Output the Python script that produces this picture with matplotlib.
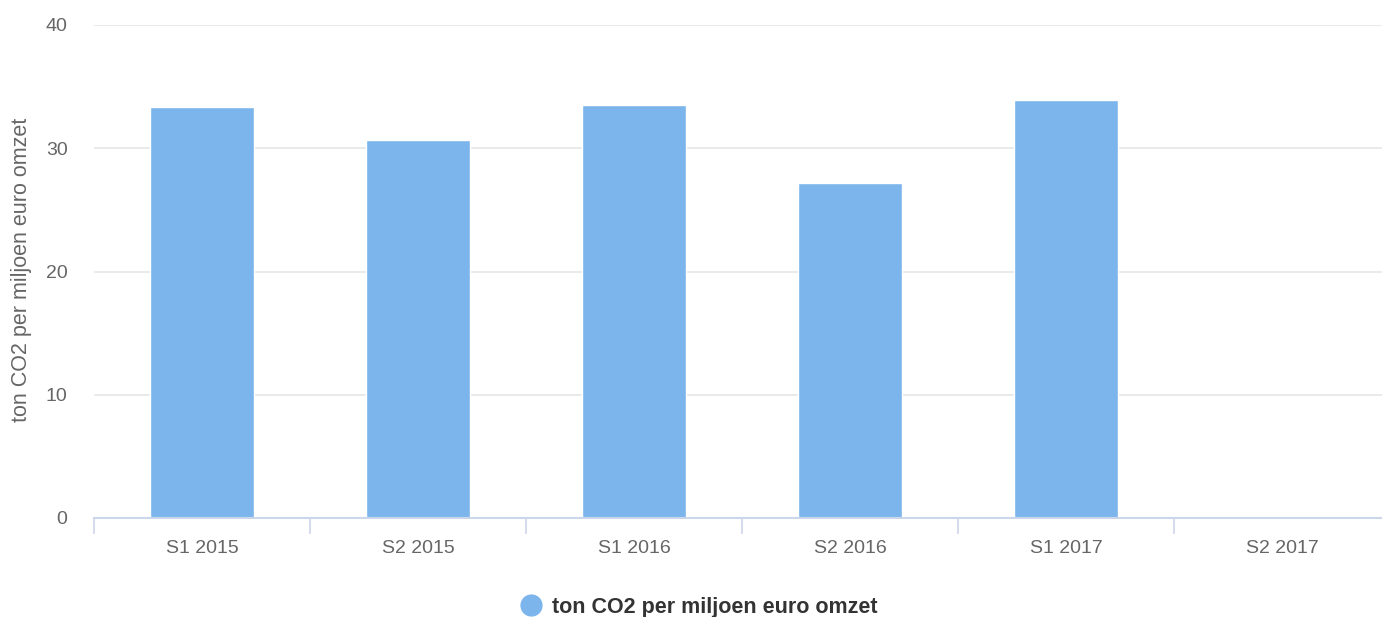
import matplotlib.pyplot as plt
import numpy as np
from matplotlib.lines import Line2D

plt.rcParams["font.family"] = ["Liberation Sans", "DejaVu Sans"]

CATEGORIES = ["S1 2015", "S2 2015", "S1 2016", "S2 2016", "S1 2017", "S2 2017"]
CO2_VALUES = [33.35, 30.65, 33.5, 27.2, 33.9, np.nan]
SERIES_NAME = "ton CO2 per miljoen euro omzet"
Y_TICKS = [0, 10, 20, 30, 40]

BAR_COLOR = "#7cb5ec"
TEXT_COLOR = "#666666"
GRID_COLOR = "#e6e6e6"
AXIS_COLOR = "#ccd6eb"

fig = plt.figure(figsize=(13.82, 6.17), dpi=100)
# plot area runs slightly past the right edge, as in the reference
ax = fig.add_axes([94 / 1382, 99 / 617, (1390 - 94) / 1382, 493 / 617])

positions = np.arange(len(CATEGORIES))
ax.bar(positions, CO2_VALUES, width=0.48, color=BAR_COLOR,
       edgecolor="white", linewidth=1, zorder=3)

ax.set_xlim(-0.5, len(CATEGORIES) - 0.5)
ax.set_ylim(0, 40)
ax.set_yticks(Y_TICKS)
ax.set_xticks(positions)
ax.set_xticklabels(CATEGORIES)
ax.set_xticks(np.arange(len(CATEGORIES) + 1) - 0.5, minor=True)

ax.tick_params(axis="x", which="major", length=0, pad=15.5, labelsize=14, labelcolor=TEXT_COLOR)
ax.tick_params(axis="x", which="minor", length=11.5, width=1.2, color=AXIS_COLOR)
ax.tick_params(axis="y", length=0, pad=19, labelsize=14, labelcolor=TEXT_COLOR)

ax.grid(axis="y", color=GRID_COLOR, linewidth=1.2, zorder=0)
for side in ["top", "right", "left"]:
    ax.spines[side].set_visible(False)
ax.spines["bottom"].set_color(AXIS_COLOR)
ax.spines["bottom"].set_linewidth(1.5)
ax.spines["bottom"].set_zorder(4)

ax.set_ylabel(SERIES_NAME, fontsize=15.5, color=TEXT_COLOR, va="center")
ax.yaxis.set_label_coords((22 - 94) / 1296, 0.503)

handle = Line2D([], [], marker="o", linestyle="none", markersize=15,
                markerfacecolor=BAR_COLOR, markeredgecolor=BAR_COLOR)
legend = fig.legend([handle], [SERIES_NAME], loc="center",
                    bbox_to_anchor=(0.5 + 7 / 1382, 10 / 617),
                    frameon=False, handletextpad=0.35, handlelength=1.2,
                    prop={"size": 15.5, "weight": "bold"})
for text in legend.get_texts():
    text.set_color("#333333")

fig.savefig("out.png", dpi=100)
